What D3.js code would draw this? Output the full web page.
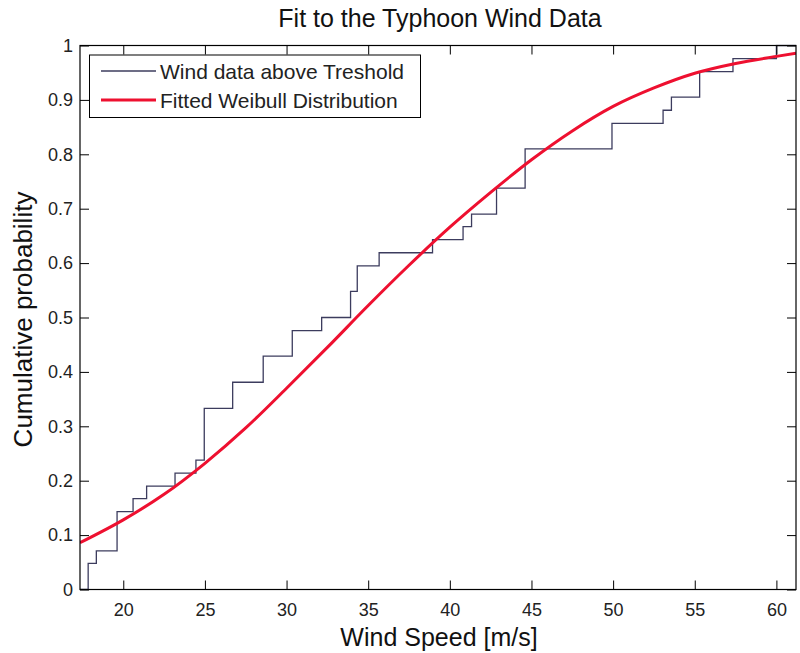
<!DOCTYPE html>
<html>
<head>
<meta charset="utf-8">
<script src="https://cdn.jsdelivr.net/npm/d3@7"></script>
<style>
  html, body { margin: 0; padding: 0; background: #ffffff; }
  svg { display: block; font-family: "Liberation Sans", Arial, Helvetica, sans-serif; }
</style>
</head>
<body>
<svg id="chart" width="800" height="653"></svg>
<script>
// ---- Data ----
// Empirical CDF: wind speed at which each step occurs, and cumulative value after the step
const stepSpeeds = [17.85, 18.35, 19.62, 20.6, 21.43, 23.17, 24.45, 24.96, 26.7, 28.57,
                    30.35, 32.15, 33.92, 34.33, 35.67, 38.94, 40.81, 41.33, 42.86, 44.61,
                    49.93, 53.06, 53.57, 55.3, 57.34, 60.0];
const stepProbs  = [0.048, 0.071, 0.143, 0.167, 0.190, 0.214, 0.238, 0.333, 0.381, 0.429,
                    0.476, 0.500, 0.548, 0.595, 0.619, 0.643, 0.667, 0.690, 0.738, 0.810,
                    0.857, 0.881, 0.905, 0.952, 0.976, 1.000];
// Fitted Weibull curve
const fitSpeeds = [17.35, 20, 22.5, 25, 27.5, 30, 32.5, 35, 37.5, 40, 42.5, 45, 47.5, 50, 52.5, 55, 57.5, 60, 61.2];
const fitProbs  = [0.086, 0.128, 0.175, 0.232, 0.297, 0.370, 0.445, 0.522, 0.596, 0.666, 0.730, 0.790, 0.843, 0.888, 0.922, 0.949, 0.967, 0.980, 0.986];

const xTicks = [20, 25, 30, 35, 40, 45, 50, 55, 60];
const yTicks = [0, 0.1, 0.2, 0.3, 0.4, 0.5, 0.6, 0.7, 0.8, 0.9, 1];
const xDomain = [17.35, 61.2];
const yDomain = [0, 1];

const titleText = "Fit to the Typhoon Wind Data";
const xLabelText = "Wind Speed [m/s]";
const yLabelText = "Cumulative probability";
const legendLabels = ["Wind data above Treshold", "Fitted Weibull Distribution"];
const legendColors = ["#3c3c5e", "#ee1030"];

// ---- Layout ----
const mLeft = 80, mRight = 796, mTop = 45.5, mBottom = 589.5;
const svg = d3.select("#chart");

const x = d3.scaleLinear().domain(xDomain).range([mLeft, mRight]);
const y = d3.scaleLinear().domain(yDomain).range([mBottom, mTop]);

svg.append("rect").attr("x", 0).attr("y", 0).attr("width", 800).attr("height", 653).attr("fill", "#fff");

svg.append("defs").append("clipPath").attr("id", "clip")
  .append("rect").attr("x", mLeft).attr("y", mTop - 1).attr("width", mRight - mLeft).attr("height", mBottom - mTop + 2);

// ECDF stair data
const ecdf = [{x: xDomain[0], y: 0}];
stepSpeeds.forEach((s, i) => ecdf.push({x: s, y: stepProbs[i]}));
ecdf.push({x: xDomain[1], y: stepProbs[stepProbs.length - 1]});

const stairLine = d3.line().x(d => x(d.x)).y(d => y(d.y)).curve(d3.curveStepAfter);
svg.append("path")
  .datum(ecdf)
  .attr("clip-path", "url(#clip)")
  .attr("d", stairLine)
  .attr("fill", "none")
  .attr("stroke", legendColors[0])
  .attr("stroke-width", 1.3);

// Fitted curve
const fitData = fitSpeeds.map((s, i) => ({x: s, y: fitProbs[i]}));
const fitLine = d3.line().x(d => x(d.x)).y(d => y(d.y)).curve(d3.curveMonotoneX);
svg.append("path")
  .datum(fitData)
  .attr("clip-path", "url(#clip)")
  .attr("d", fitLine)
  .attr("fill", "none")
  .attr("stroke", legendColors[1])
  .attr("stroke-width", 3);

// ---- Axes ----
const tickLen = 9;
const fmtY = d => d3.format("~g")(d);

const axB = svg.append("g").attr("transform", `translate(0,${mBottom})`)
  .call(d3.axisBottom(x).tickValues(xTicks).tickSize(-tickLen).tickPadding(14).tickFormat(d3.format("d")));
const axT = svg.append("g").attr("transform", `translate(0,${mTop})`)
  .call(d3.axisTop(x).tickValues(xTicks).tickSize(-tickLen).tickFormat(""));
const axL = svg.append("g").attr("transform", `translate(${mLeft},0)`)
  .call(d3.axisLeft(y).tickValues(yTicks).tickSize(-tickLen).tickPadding(7).tickFormat(fmtY));
const axR = svg.append("g").attr("transform", `translate(${mRight},0)`)
  .call(d3.axisRight(y).tickValues(yTicks).tickSize(-tickLen).tickFormat(""));

[axB, axT, axL, axR].forEach(g => {
  g.select(".domain").remove();
  g.selectAll(".tick line").attr("stroke", "#000").attr("stroke-width", 1);
  g.selectAll(".tick text")
    .attr("fill", "#222")
    .style("font-family", "'Liberation Sans', Arial, sans-serif")
    .style("font-size", "18px");
});

svg.append("rect")
  .attr("x", mLeft).attr("y", mTop)
  .attr("width", mRight - mLeft).attr("height", mBottom - mTop)
  .attr("fill", "none").attr("stroke", "#000").attr("stroke-width", 1.2);

// ---- Titles ----
svg.append("text")
  .attr("x", (mLeft + mRight) / 2 + 2).attr("y", 27)
  .attr("text-anchor", "middle")
  .style("font-size", "25px").attr("fill", "#111")
  .text(titleText);

svg.append("text")
  .attr("x", (mLeft + mRight) / 2 + 1).attr("y", 646)
  .attr("text-anchor", "middle")
  .style("font-size", "25px").attr("fill", "#111")
  .text(xLabelText);

svg.append("text")
  .attr("transform", `translate(32,${(mTop + mBottom) / 2 + 2}) rotate(-90)`)
  .attr("text-anchor", "middle")
  .style("font-size", "26px").attr("fill", "#111")
  .text(yLabelText);

// ---- Legend ----
const lg = svg.append("g");
lg.append("rect")
  .attr("x", 89.5).attr("y", 55).attr("width", 331).attr("height", 62.5)
  .attr("fill", "#fff").attr("stroke", "#000").attr("stroke-width", 1);
const rowY = [71, 100];
legendLabels.forEach((lab, i) => {
  lg.append("line")
    .attr("x1", 101).attr("x2", 156).attr("y1", rowY[i]).attr("y2", rowY[i])
    .attr("stroke", legendColors[i]).attr("stroke-width", i === 0 ? 1.3 : 3);
  lg.append("text")
    .attr("x", 160).attr("y", rowY[i] + 7.5)
    .style("font-size", "21px").attr("fill", "#222")
    .text(lab);
});
</script>
</body>
</html>
